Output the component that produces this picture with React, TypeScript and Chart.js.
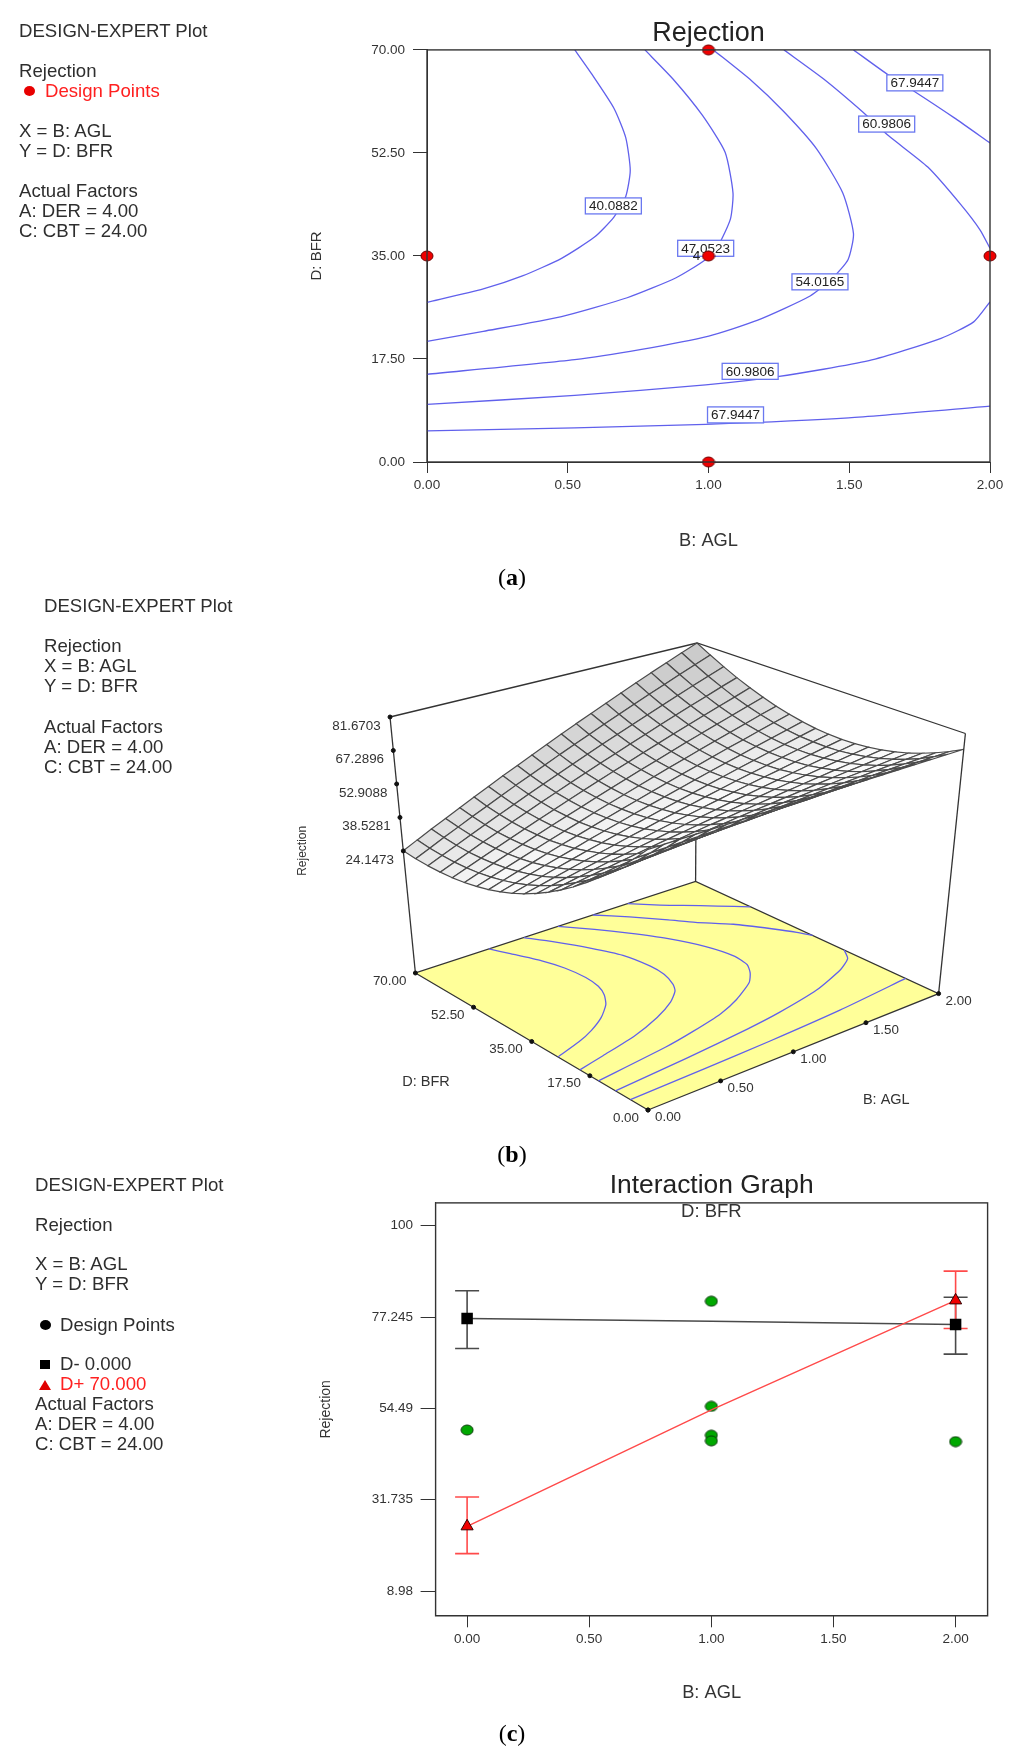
import React, { useEffect, useRef } from "react";
import { Chart, registerables } from "chart.js";

Chart.register(...registerables);

const SANS = "'Liberation Sans', Arial, sans-serif";
const SERIF = "'Liberation Serif', serif";

/* ---------- Panel (a): contour plot ---------- */
const axisTicksAGL = [0, 0.5, 1, 1.5, 2];
const axisTicksBFR = [0, 17.5, 35, 52.5, 70];
const designX = [1, 0, 1, 2, 1];
const designY = [70, 35, 35, 35, 0];

const contour40: number[][] = [[0.525,70],[0.583,66.06],[0.664,60.1],[0.706,55.1],[0.722,49.5],[0.706,45.1],[0.664,41.6],[0.595,38.2],[0.478,34.6],[0.339,31.6],[0.2,29.4],[0,27.1]];
const contour47: number[][] = [[0.774,70],[0.873,65.1],[0.978,58.9],[1.059,52.6],[1.087,45.7],[1.078,41.3],[1.036,36.9],[0.99,34.4],[0.885,31.3],[0.711,27.9],[0.478,24.7],[0.2,22.2],[0,20.5]];
const contour54: number[][] = [[1.017,70],[1.152,64.8],[1.268,59.5],[1.384,53.2],[1.477,45.7],[1.515,38.8],[1.496,34.4],[1.442,31.3],[1.361,28.2],[1.175,24.1],[1.001,21.4],[0.757,19.1],[0.525,17.4],[0,14.9]];
const contour61Upper: number[][] = [[1.268,70],[1.408,65.1],[1.547,59.5],[1.64,55.4],[1.779,50.1],[1.895,43.8],[1.965,39.4],[2,36.3]];
const contour61Lower: number[][] = [[2,27.2],[1.942,23.8],[1.826,21],[1.57,17.2],[1.245,14.5],[0.99,13.1],[0.525,11.3],[0,9.8]];
const contour68Upper: number[][] = [[1.515,70],[1.64,65.7],[1.733,62.9],[1.872,58.5],[2,54.2]];
const contour68Lower: number[][] = [[0,5.3],[0.525,5.8],[0.99,6.4],[1.498,7.5],[2,9.5]];
const allContours = [contour40, contour47, contour54, contour61Upper, contour61Lower, contour68Upper, contour68Lower];

const contourLabelText = ["67.9447", "60.9806", "40.0882", "47.0523", "54.0165", "60.9806", "67.9447"];
const contourLabelX = [1.733, 1.633, 0.662, 0.99, 1.396, 1.148, 1.096];
const contourLabelY = [64.4, 57.4, 43.5, 36.3, 30.6, 15.4, 8.0];

/* ---------- Panel (b): response surface, rows by BFR (0..70), columns by AGL (0..2) ---------- */
const surfaceRows: number[][] = [
  [75,75,75,75,75,75,75,75,75,75,75,75,75,75,75,75,75,75,75,75,75],
  [69.2,69.4,69.5,69.7,69.8,70.0,70.1,70.3,70.4,70.5,70.7,70.8,71.0,71.1,71.2,71.4,71.5,71.7,71.8,72.0,72.1],
  [63.8,64.1,64.4,64.7,65.0,65.2,65.5,65.8,66.1,66.4,66.7,67.0,67.3,67.5,67.8,68.1,68.4,68.7,69.0,69.2,69.6],
  [58.7,59.1,59.6,60.0,60.4,60.9,61.3,61.7,62.2,62.6,63.0,63.5,63.9,64.3,64.8,65.2,65.6,66.1,66.5,66.9,67.4],
  [54.0,54.5,55.1,55.7,56.3,56.8,57.4,58.0,58.6,59.1,59.7,60.3,60.9,61.4,62.0,62.6,63.2,63.7,64.3,64.9,65.5],
  [49.6,50.3,51.0,51.7,52.4,53.2,53.9,54.6,55.3,56.0,56.8,57.5,58.2,58.9,59.6,60.4,61.1,61.8,62.5,63.2,64.0],
  [45.5,46.3,47.2,48.1,48.9,49.8,50.7,51.5,52.4,53.3,54.1,55.0,55.8,56.7,57.6,58.4,59.3,60.2,61.0,61.9,62.8],
  [41.8,42.8,43.8,44.8,45.8,46.8,47.8,48.8,49.8,50.8,51.8,52.8,53.8,54.9,55.9,56.9,57.9,58.9,59.9,60.9,61.9],
  [38.4,39.5,40.7,41.8,43.0,44.1,45.3,46.4,47.6,48.7,49.9,51.0,52.2,53.3,54.5,55.6,56.8,57.9,59.1,60.2,61.4],
  [35.3,36.6,37.9,39.2,40.5,41.8,43.1,44.4,45.7,47.0,48.3,49.6,50.9,52.2,53.5,54.8,56.0,57.3,58.6,59.9,61.2],
  [32.6,34.0,35.5,36.9,38.4,39.8,41.2,42.7,44.1,45.6,47.0,48.4,49.9,51.3,52.8,54.2,55.6,57.1,58.5,60.0,61.4],
  [30.2,31.8,33.4,35.0,36.6,38.2,39.7,41.3,42.9,44.5,46.1,47.6,49.2,50.8,52.4,54.0,55.6,57.2,58.7,60.3,61.9],
  [28.2,29.9,31.7,33.4,35.1,36.8,38.6,40.3,42.0,43.8,45.5,47.2,48.9,50.7,52.4,54.1,55.8,57.6,59.3,61.0,62.8],
  [26.5,28.4,30.3,32.1,34.0,35.9,37.7,39.6,41.5,43.4,45.2,47.1,49.0,50.9,52.7,54.6,56.5,58.3,60.2,62.1,64.0],
  [25.2,27.2,29.2,31.2,33.2,35.2,37.2,39.2,41.3,43.3,45.3,47.3,49.4,51.4,53.4,55.4,57.4,59.4,61.4,63.5,65.5],
  [24.2,26.3,28.5,30.6,32.8,35.0,37.1,39.3,41.4,43.6,45.8,47.9,50.1,52.2,54.4,56.6,58.7,60.9,63.0,65.2,67.4],
  [23.5,25.8,28.1,30.4,32.7,35.0,37.3,39.6,41.9,44.2,46.5,48.8,51.1,53.4,55.7,58.0,60.3,62.6,64.9,67.2,69.6],
  [23.2,25.6,28.0,30.5,32.9,35.4,37.8,40.3,42.7,45.2,47.6,50.1,52.5,55.0,57.4,59.9,62.3,64.8,67.2,69.7,72.1],
  [23.2,25.8,28.3,30.9,33.5,36.1,38.7,41.3,43.9,46.5,49.1,51.7,54.3,56.9,59.4,62.0,64.6,67.2,69.8,72.4,75.0],
  [23.5,26.2,29.0,31.7,34.5,37.2,39.9,42.7,45.4,48.1,50.9,53.6,56.3,59.1,61.8,64.6,67.3,70.0,72.8,75.5,78.2],
  [24.2,27.1,30.0,32.8,35.7,38.6,41.5,44.4,47.2,50.1,53.0,55.9,58.8,61.6,64.5,67.4,70.3,73.2,76.0,78.9,81.7],
];
const surfaceAGL = [0,0.1,0.2,0.3,0.4,0.5,0.6,0.7,0.8,0.9,1,1.1,1.2,1.3,1.4,1.5,1.6,1.7,1.8,1.9,2];
const surfaceBFR = [0,3.5,7,10.5,14,17.5,21,24.5,28,31.5,35,38.5,42,45.5,49,52.5,56,59.5,63,66.5,70];
const zTicks = [24.1473, 38.5281, 52.9088, 67.2896, 81.6703];

/* ---------- Panel (c): interaction graph ---------- */
const interactionX = [0, 1, 2];
const dMinus = [76.9, 76.2, 75.4];
const dPlus = [25.1, 54.1, 81.4];
const errX = [0, 2];
const dMinusHigh = [83.8, 82.2];
const dMinusLow = [69.4, 68.0];
const dPlusHigh = [32.4, 88.7];
const dPlusLow = [18.3, 74.4];
const rawX = [0, 1, 1, 1, 1, 2];
const rawY = [49.1, 81.2, 55.0, 47.8, 46.4, 46.2];
const interactionYTicks = [8.98, 31.735, 54.49, 77.245, 100];

const CONTOUR = "#6060ec";

function ellipseMarker(w: number, h: number, fill: string, stroke: string) {
  const c = document.createElement("canvas");
  c.width = w + 2;
  c.height = h + 2;
  const g = c.getContext("2d")!;
  g.beginPath();
  g.ellipse(c.width / 2, c.height / 2, w / 2, h / 2, 0, 0, Math.PI * 2);
  g.fillStyle = fill;
  g.fill();
  g.strokeStyle = stroke;
  g.lineWidth = 1;
  g.stroke();
  return c;
}

const boxPlugin = {
  id: "box",
  afterDraw(chart: any) {
    const { left, top, width, height } = chart.chartArea;
    const ctx = chart.ctx;
    ctx.save();
    ctx.strokeStyle = "#333";
    ctx.lineWidth = 1.4;
    ctx.strokeRect(left, top, width, height);
    ctx.restore();
  },
};

const tickFont = { family: SANS, size: 13.5 };

function contourChart(canvas: HTMLCanvasElement) {
  const labelPlugin = {
    id: "contourLabels",
    beforeDatasetDraw(chart: any, args: any) {
      if (args.index !== 0) return;
      const ctx = chart.ctx;
      const X = (v: number) => chart.scales.x.getPixelForValue(v);
      const Y = (v: number) => chart.scales.y.getPixelForValue(v);
      ctx.save();
      ctx.font = `13.5px ${SANS}`;
      ctx.textAlign = "center";
      ctx.textBaseline = "middle";
      contourLabelText.forEach((t, i) => {
        const x = X(contourLabelX[i]);
        const y = Y(contourLabelY[i]);
        ctx.fillStyle = "#fff";
        ctx.fillRect(x - 28, y - 8, 56, 16);
        ctx.strokeStyle = "#6a78f0";
        ctx.lineWidth = 1.3;
        ctx.strokeRect(x - 28, y - 8, 56, 16);
        ctx.fillStyle = "#222";
        ctx.fillText(t, x, y + 0.5);
      });
      ctx.fillStyle = "#222";
      ctx.fillText("4", X(1) - 12, Y(35) + 0.5);
      ctx.restore();
    },
  };
  return new Chart(canvas, {
    type: "scatter",
    data: {
      datasets: [
        {
          label: "Design Points",
          data: designX.map((x, i) => ({ x, y: designY[i] })),
          pointStyle: ellipseMarker(12, 10, "#f00000", "#700000"),
          pointRadius: 6,
          clip: false,
        },
        ...allContours.map((c, i) => ({
          label: `contour ${i}`,
          data: c.map(([x, y]) => ({ x, y })),
          showLine: true,
          tension: 0.2,
          borderColor: CONTOUR,
          borderWidth: 1.3,
          pointRadius: 0,
        })),
      ],
    },
    options: {
      responsive: false,
      animation: false,
      layout: { autoPadding: false, padding: { left: 300, right: 34, top: 17, bottom: 8 } },
      plugins: {
        legend: { display: false },
        tooltip: { enabled: false },
        title: {
          display: true,
          text: "Rejection",
          fullSize: false,
          color: "#222",
          font: { family: SANS, size: 27, weight: "normal" },
          padding: { top: 0, bottom: 0.5 },
        },
      },
      scales: {
        x: {
          type: "linear",
          min: 0,
          max: 2,
          afterBuildTicks: (a: any) => { a.ticks = axisTicksAGL.map((value) => ({ value })); },
          afterFit: (s: any) => { s.height = 90; },
          ticks: { font: tickFont, color: "#333", padding: 4, maxRotation: 0, autoSkip: false, callback: (v: any) => Number(v).toFixed(2) },
          grid: { drawOnChartArea: false, tickLength: 11, color: "#333" },
          border: { display: true, color: "#333" },
          title: { display: true, text: "B: AGL", color: "#333", font: { family: SANS, size: 18.3 }, padding: 0 },
        },
        y: {
          type: "linear",
          min: 0,
          max: 70,
          afterBuildTicks: (a: any) => { a.ticks = axisTicksBFR.map((value) => ({ value })); },
          afterFit: (s: any) => { s.width = 127; },
          ticks: { font: tickFont, color: "#333", padding: 8, autoSkip: false, callback: (v: any) => Number(v).toFixed(2) },
          grid: { drawOnChartArea: false, tickLength: 14, color: "#333" },
          border: { display: true, color: "#333" },
          title: { display: true, text: "D: BFR", color: "#333", font: { family: SANS, size: 15 }, padding: { top: 8, bottom: 0 } },
        },
      },
    } as any,
    plugins: [labelPlugin, boxPlugin],
  } as any);
}

/* view of the 3-D box: page position of its eight corners */
const floorCorners = { a0b0: [648, 1110], a2b0: [938.6, 993.6], a0b7: [415.4, 973], a2b7: [695.6, 881.5] };
const topCorners = { a0b0: [648, 832.5], a2b0: [965.4, 733.5], a0b7: [390, 717], a2b7: [697, 643] };
const Z_FLOOR = -28.3;
const Z_TOP = 81.6703;

function bilerp(c: any, s: number, r: number, k: number) {
  return (1 - s) * (1 - r) * c.a0b0[k] + s * (1 - r) * c.a2b0[k] + (1 - s) * r * c.a0b7[k] + s * r * c.a2b7[k];
}
function project(agl: number, bfr: number, z: number) {
  const s = agl / 2;
  const r = bfr / 70;
  const t = (z - Z_FLOOR) / (Z_TOP - Z_FLOOR);
  return {
    x: bilerp(floorCorners, s, r, 0) * (1 - t) + bilerp(topCorners, s, r, 0) * t,
    y: bilerp(floorCorners, s, r, 1) * (1 - t) + bilerp(topCorners, s, r, 1) * t,
  };
}

function surfaceChart(canvas: HTMLCanvasElement) {
  const quads: any[] = [];
  for (let j = 0; j < 20; j++) {
    for (let i = 0; i < 20; i++) {
      const z00 = surfaceRows[j][i], z10 = surfaceRows[j][i + 1], z01 = surfaceRows[j + 1][i], z11 = surfaceRows[j + 1][i + 1];
      const dzdu = ((z10 - z00) + (z11 - z01)) * 5;
      const dzdv = ((z01 - z00) + (z11 - z10)) * 5;
      const g = Math.round(Math.min(250, Math.max(190, 244 - 0.9 * dzdv - 0.35 * dzdu)));
      quads.push({
        order: i + j,
        label: `cell ${i},${j}`,
        data: [
          project(surfaceAGL[i], surfaceBFR[j], z00),
          project(surfaceAGL[i + 1], surfaceBFR[j], z10),
          project(surfaceAGL[i + 1], surfaceBFR[j + 1], z11),
          project(surfaceAGL[i], surfaceBFR[j + 1], z01),
          project(surfaceAGL[i], surfaceBFR[j], z00),
        ],
        showLine: true,
        fill: "shape",
        backgroundColor: `rgb(${g},${g},${g})`,
        borderColor: "#4a4a4a",
        borderWidth: 1.2,
        pointRadius: 0,
        tension: 0,
        clip: false,
      });
    }
  }
  quads.sort((a, b) => a.order - b.order);
  quads.forEach((q) => delete q.order);

  const line = (label: string, pts: { x: number; y: number }[], color = "#333", width = 1.3) => ({
    label,
    data: pts,
    showLine: true,
    borderColor: color,
    borderWidth: width,
    pointRadius: 0,
    tension: 0,
    clip: false,
  });
  const floorOf = (c: number[][]) => c.map(([a, b]) => project(a, b, Z_FLOOR));

  const tickDots = [
    ...zTicks.map((z) => project(0, 70, z)),
    ...axisTicksBFR.map((b) => project(0, b, Z_FLOOR)),
    ...axisTicksAGL.map((a) => project(a, 0, Z_FLOOR)),
  ];

  const textPlugin = {
    id: "surfaceText",
    afterDatasetsDraw(chart: any) {
      const ctx = chart.ctx;
      const X = (v: number) => chart.scales.x.getPixelForValue(v);
      const Y = (v: number) => chart.scales.y.getPixelForValue(v);
      ctx.save();
      ctx.fillStyle = "#333";
      ctx.textBaseline = "middle";
      ctx.font = `13.4px ${SANS}`;
      ctx.textAlign = "center";
      zTicks.forEach((z) => {
        const p = project(0, 70, z);
        ctx.fillText(z.toFixed(4), X(p.x - 33.5), Y(p.y + 9));
      });
      axisTicksAGL.forEach((a) => {
        const p = project(a, 0, Z_FLOOR);
        ctx.fillText(a.toFixed(2), X(p.x + 20), Y(p.y + 7.5));
      });
      ctx.textAlign = "right";
      axisTicksBFR.forEach((b) => {
        const p = project(0, b, Z_FLOOR);
        ctx.fillText(b.toFixed(2), X(p.x - 9), Y(p.y + 8));
      });
      ctx.textAlign = "center";
      ctx.font = `14.5px ${SANS}`;
      ctx.fillText("D: BFR", X(426), Y(1081.7));
      ctx.fillText("B: AGL", X(886.3), Y(1100.2));
      ctx.font = `12px ${SANS}`;
      ctx.translate(X(302.4), Y(850.8));
      ctx.rotate(-Math.PI / 2);
      ctx.fillText("Rejection", 0, 0);
      ctx.restore();
    },
  };

  return new Chart(canvas, {
    type: "scatter",
    data: {
      datasets: [
        { label: "ticks", data: tickDots, backgroundColor: "#111", borderColor: "#111", pointRadius: 2, clip: false },
        line("edge left", [project(0, 70, Z_TOP), project(0, 70, Z_FLOOR)]),
        line("edge right", [project(2, 0, Z_TOP), project(2, 0, Z_FLOOR)]),
        ...quads,
        line("edge back", [project(2, 70, Z_TOP), project(2, 70, Z_FLOOR)]),
        line("top", [project(0, 70, Z_TOP), project(2, 70, Z_TOP), project(2, 0, Z_TOP)]),
        ...allContours.map((c, i) => ({ ...line(`floor contour ${i}`, floorOf(c), CONTOUR, 1.3), tension: 0.2 })),
        {
          ...line("floor", [project(0, 0, Z_FLOOR), project(2, 0, Z_FLOOR), project(2, 70, Z_FLOOR), project(0, 70, Z_FLOOR), project(0, 0, Z_FLOOR)]),
          fill: "shape",
          backgroundColor: "#ffff99",
        },
      ],
    },
    options: {
      responsive: false,
      animation: false,
      layout: { autoPadding: false, padding: 0 },
      plugins: { legend: { display: false }, tooltip: { enabled: false }, title: { display: false } },
      scales: {
        x: { type: "linear", display: false, min: 0, max: 1024 },
        y: { type: "linear", display: false, reverse: true, min: 590, max: 1160 },
      },
    } as any,
    plugins: [textPlugin],
  } as any);
}

function interactionChart(canvas: HTMLCanvasElement) {
  const errBar = (label: string, hi: number, lo: number, x: number, color: string) => ({
    label,
    data: [{ x, y: hi }, { x, y: lo }],
    showLine: true,
    borderColor: color,
    pointBorderColor: color,
    borderWidth: 1.6,
    pointStyle: "line",
    pointRadius: 12,
    pointBorderWidth: 1.6,
    tension: 0,
  });
  const subtitle = {
    id: "subtitle",
    afterDatasetsDraw(chart: any) {
      const ctx = chart.ctx;
      ctx.save();
      ctx.font = `18.5px ${SANS}`;
      ctx.fillStyle = "#333";
      ctx.textAlign = "center";
      ctx.textBaseline = "middle";
      ctx.fillText("D: BFR", chart.scales.x.getPixelForValue(1), chart.scales.y.getPixelForValue(103.5));
      ctx.restore();
    },
  };
  return new Chart(canvas, {
    type: "scatter",
    data: {
      datasets: [
        {
          label: "D+ 70.000",
          data: interactionX.map((x, i) => ({ x, y: dPlus[i] })),
          showLine: true,
          tension: 0,
          borderColor: "#ff4a4a",
          borderWidth: 1.4,
          pointStyle: "triangle",
          pointRadius: [7, 0, 7],
          pointBackgroundColor: "#f00000",
          pointBorderColor: "#300",
          pointBorderWidth: 1,
        },
        {
          label: "D- 0.000",
          data: interactionX.map((x, i) => ({ x, y: dMinus[i] })),
          showLine: true,
          tension: 0,
          borderColor: "#4a4a4a",
          borderWidth: 1.6,
          pointStyle: "rect",
          pointRadius: [7, 0, 7],
          pointBackgroundColor: "#000",
          pointBorderColor: "#000",
        },
        {
          label: "Design Points",
          data: rawX.map((x, i) => ({ x, y: rawY[i] })),
          pointStyle: ellipseMarker(12, 10, "#00a800", "#0a3a0a"),
          pointRadius: 6,
        },
        ...errX.map((x, i) => errBar(`D+ CI ${x}`, dPlusHigh[i], dPlusLow[i], x, "#ff4a4a")),
        ...errX.map((x, i) => errBar(`D- CI ${x}`, dMinusHigh[i], dMinusLow[i], x, "#4a4a4a")),
      ],
    },
    options: {
      responsive: false,
      animation: false,
      layout: { autoPadding: false, padding: { left: 300, right: 36.4, top: 10.2, bottom: 59.5 } },
      plugins: {
        legend: { display: false },
        tooltip: { enabled: false },
        title: {
          display: true,
          text: "Interaction Graph",
          fullSize: false,
          color: "#222",
          font: { family: SANS, size: 26.4, weight: "normal" },
          padding: { top: 0, bottom: 1 },
        },
      },
      scales: {
        x: {
          type: "linear",
          min: -0.129,
          max: 2.131,
          afterBuildTicks: (a: any) => { a.ticks = axisTicksAGL.map((value) => ({ value })); },
          afterFit: (s: any) => { s.height = 87.7; },
          ticks: { font: tickFont, color: "#333", padding: 4, maxRotation: 0, autoSkip: false, callback: (v: any) => Number(v).toFixed(2) },
          grid: { drawOnChartArea: false, tickLength: 11.5, color: "#333" },
          border: { display: true, color: "#333" },
          title: { display: true, text: "B: AGL", color: "#333", font: { family: SANS, size: 18.3 }, padding: 0 },
        },
        y: {
          type: "linear",
          min: 2.8,
          max: 105.7,
          afterBuildTicks: (a: any) => { a.ticks = interactionYTicks.map((value) => ({ value })); },
          afterFit: (s: any) => { s.width = 135.6; },
          ticks: { font: tickFont, color: "#333", padding: 7.6, autoSkip: false, callback: (v: any) => String(v) },
          grid: { drawOnChartArea: false, tickLength: 15, color: "#333" },
          border: { display: true, color: "#333" },
          title: { display: true, text: "Rejection", color: "#333", font: { family: SANS, size: 14 }, padding: { top: 17.6, bottom: 0 } },
        },
      },
    } as any,
    plugins: [boxPlugin, subtitle],
  } as any);
}

const textStyle = (x: number, y: number, color = "#2e2e2e"): React.CSSProperties => ({
  position: "absolute",
  left: x,
  top: y,
  transform: "translateY(-50%)",
  font: `18.6px ${SANS}`,
  color,
  whiteSpace: "nowrap",
});

const Line = ({ x, y, children, color }: any) => <div style={textStyle(x, y, color)}>{children}</div>;

const Caption = ({ y, letter }: { y: number; letter: string }) => (
  <div style={{ position: "absolute", left: 0, width: 1024, top: y, transform: "translateY(-50%)", textAlign: "center", font: `24px ${SERIF}`, color: "#000" }}>
    (<b>{letter}</b>)
  </div>
);

const Dot = ({ x, y, color, w = 11, h = 10 }: any) => (
  <div style={{ position: "absolute", left: x - w / 2, top: y - h / 2, width: w, height: h, borderRadius: "50%", background: color }} />
);

export default function App() {
  const a = useRef<HTMLCanvasElement>(null);
  const b = useRef<HTMLCanvasElement>(null);
  const c = useRef<HTMLCanvasElement>(null);
  useEffect(() => {
    const charts = [contourChart(a.current!), surfaceChart(b.current!), interactionChart(c.current!)];
    return () => charts.forEach((ch) => ch.destroy());
  }, []);
  return (
    <div style={{ position: "absolute", left: 0, top: 0, width: 1024, height: 1763, background: "#fff", overflow: "hidden" }}>
      <canvas ref={a} width={1024} height={560} style={{ position: "absolute", left: 0, top: 0 }} />
      <canvas ref={b} width={1024} height={570} style={{ position: "absolute", left: 0, top: 590 }} />
      <canvas ref={c} width={1024} height={603} style={{ position: "absolute", left: 0, top: 1160 }} />

      <Line x={19} y={30.7}>DESIGN-EXPERT Plot</Line>
      <Line x={19} y={71}>Rejection</Line>
      <Dot x={29.5} y={91} color="#e80000" />
      <Line x={45} y={91} color="#ff2020">Design Points</Line>
      <Line x={19} y={130.6}>X = B: AGL</Line>
      <Line x={19} y={150.6}>Y = D: BFR</Line>
      <Line x={19} y={191.3}>Actual Factors</Line>
      <Line x={19} y={211.2}>A: DER = 4.00</Line>
      <Line x={19} y={231.2}>C: CBT = 24.00</Line>
      <Caption y={577} letter="a" />

      <Line x={44} y={605.5}>DESIGN-EXPERT Plot</Line>
      <Line x={44} y={645.9}>Rejection</Line>
      <Line x={44} y={665.8}>X = B: AGL</Line>
      <Line x={44} y={686.2}>Y = D: BFR</Line>
      <Line x={44} y={726.9}>Actual Factors</Line>
      <Line x={44} y={746.9}>A: DER = 4.00</Line>
      <Line x={44} y={766.8}>C: CBT = 24.00</Line>
      <Caption y={1154} letter="b" />

      <Line x={35} y={1184.6}>DESIGN-EXPERT Plot</Line>
      <Line x={35} y={1224.6}>Rejection</Line>
      <Line x={35} y={1264.2}>X = B: AGL</Line>
      <Line x={35} y={1284.2}>Y = D: BFR</Line>
      <Dot x={45} y={1324.6} color="#000" />
      <Line x={60} y={1324.6}>Design Points</Line>
      <div style={{ position: "absolute", left: 40, top: 1360, width: 10, height: 9, background: "#000" }} />
      <Line x={60} y={1364.2}>D- 0.000</Line>
      <div style={{ position: "absolute", left: 39, top: 1380, width: 12, height: 10, background: "#e00000", clipPath: "polygon(50% 0, 100% 100%, 0 100%)" }} />
      <Line x={60} y={1384.2} color="#ff2020">D+ 70.000</Line>
      <Line x={35} y={1404.2}>Actual Factors</Line>
      <Line x={35} y={1424.2}>A: DER = 4.00</Line>
      <Line x={35} y={1444.2}>C: CBT = 24.00</Line>
      <Caption y={1733} letter="c" />
    </div>
  );
}
